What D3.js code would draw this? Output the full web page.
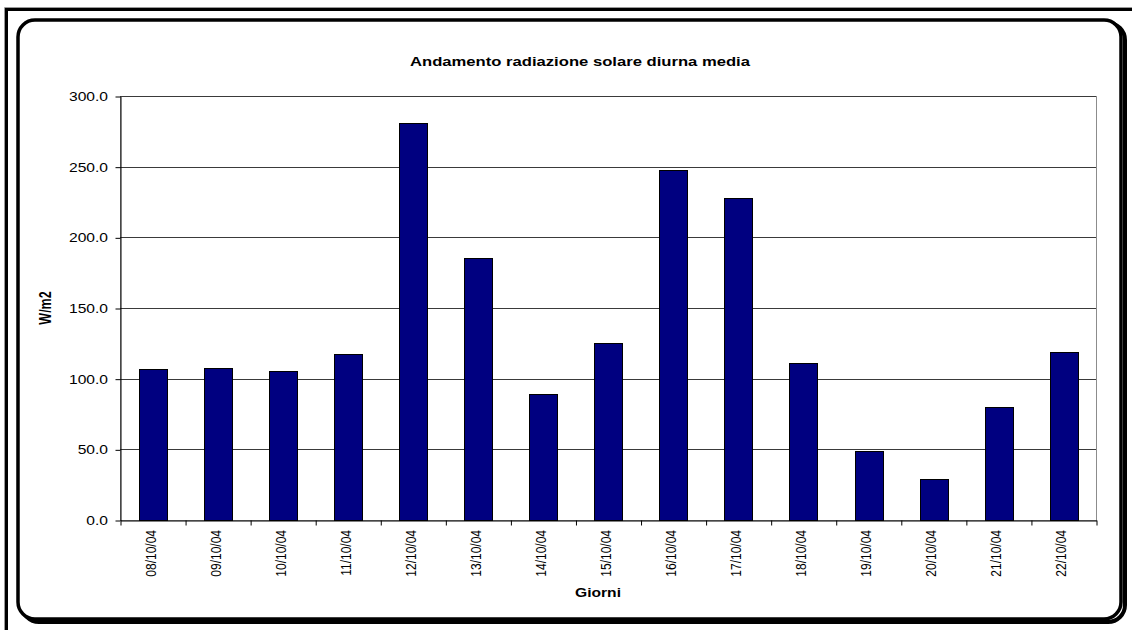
<!DOCTYPE html>
<html>
<head>
<meta charset="utf-8">
<script src="https://cdn.jsdelivr.net/npm/d3@7"></script>
<style>
  html, body { margin: 0; padding: 0; background: #fff; }
  svg { display: block; font-family: Arial, "Liberation Sans", sans-serif; }
</style>
</head>
<body>
<svg id="chart" width="1132" height="630"></svg>
<script>
// Daily mean solar radiation, 8–22 October 2004
const giorni = ["08/10/04", "09/10/04", "10/10/04", "11/10/04", "12/10/04",
                "13/10/04", "14/10/04", "15/10/04", "16/10/04", "17/10/04",
                "18/10/04", "19/10/04", "20/10/04", "21/10/04", "22/10/04"];
const radiazione = [106.8, 107.5, 105.2, 117.2, 281.1,
                    185.4, 88.9, 125.0, 247.9, 228.1,
                    111.1, 48.8, 28.8, 80.0, 118.9];
const yTicks = [0, 50, 100, 150, 200, 250, 300];

const titolo = "Andamento radiazione solare diurna media";
const titoloY = "W/m2";
const titoloX = "Giorni";

const svg = d3.select("#chart");
const W = 1132, H = 630;
const plot = { left: 120, right: 1096, top: 96, bottom: 520 };
const sx = 1.25; // horizontal stretch of the lettering

// outer frame (top and left edges)
svg.append("path")
  .attr("d", `M4.5,${H} V7.5 H${W}`)
  .attr("fill", "none").attr("stroke", "#9a9a9a").attr("stroke-width", 1);
svg.append("path")
  .attr("d", `M6.5,${H} V9.5 H${W}`)
  .attr("fill", "none").attr("stroke", "#000").attr("stroke-width", 3);

// chart area: rounded box with drop shadow
svg.append("rect")
  .attr("x", 22).attr("y", 23).attr("width", 1103).attr("height", 599)
  .attr("rx", 17).attr("ry", 17)
  .attr("fill", "none").attr("stroke", "#000").attr("stroke-width", 4);
svg.append("rect")
  .attr("x", 18).attr("y", 20).attr("width", 1103).attr("height", 599)
  .attr("rx", 17).attr("ry", 17)
  .attr("fill", "#fff").attr("stroke", "#000").attr("stroke-width", 3.5);

const x = d3.scaleBand()
  .domain(giorni)
  .range([plot.left, plot.right])
  .paddingInner(0.577)
  .paddingOuter(0.2885);
const xEdges = d3.scaleLinear().domain([0, giorni.length]).range([plot.left, plot.right]);
const y = d3.scaleLinear().domain([0, 300]).range([plot.bottom, plot.top]);

// plot area border
svg.append("rect")
  .attr("x", plot.left + 0.5).attr("y", plot.top + 0.5)
  .attr("width", plot.right - plot.left).attr("height", plot.bottom - plot.top)
  .attr("fill", "#fff").attr("stroke", "#8c8c8c").attr("stroke-width", 1);

// horizontal gridlines
svg.append("g")
  .selectAll("line")
  .data(yTicks.filter(d => d > 0))
  .join("line")
  .attr("x1", plot.left).attr("x2", plot.right)
  .attr("y1", d => Math.round(y(d)) + 0.5).attr("y2", d => Math.round(y(d)) + 0.5)
  .attr("stroke", "#3a3a3a").attr("stroke-width", 1);

// bars
svg.append("g")
  .selectAll("rect")
  .data(radiazione)
  .join("rect")
  .attr("x", (d, i) => Math.round(x(giorni[i])) + 0.5)
  .attr("y", d => Math.round(y(d)) + 0.5)
  .attr("width", Math.round(x.bandwidth()))
  .attr("height", d => Math.round(y(0)) - Math.round(y(d)))
  .attr("fill", "#000080")
  .attr("stroke", "#000").attr("stroke-width", 1);

// y axis
const yAxis = svg.append("g")
  .attr("transform", `translate(${plot.left + 0.5},0.5)`)
  .call(d3.axisLeft(y).tickValues(yTicks).tickFormat(d3.format(".1f")).tickSize(5).tickSizeOuter(0));
yAxis.select(".domain").attr("stroke", "#000");
yAxis.selectAll(".tick line").attr("stroke", "#000");
yAxis.selectAll(".tick text")
  .attr("x", -10)
  .attr("font-size", 12.5)
  .attr("fill", "#000")
  .attr("font-family", "Arial, 'Liberation Sans', sans-serif")
  .attr("transform", `scale(${sx},1)`);

// x axis: ticks on category boundaries
const xTickAxis = svg.append("g")
  .attr("transform", `translate(0.5,${plot.bottom + 0.5})`)
  .call(d3.axisBottom(xEdges).ticks(giorni.length).tickValues(d3.range(giorni.length + 1))
    .tickSize(5).tickSizeOuter(0).tickFormat(""));
xTickAxis.select(".domain").attr("stroke", "#000");
xTickAxis.selectAll(".tick line").attr("stroke", "#000");

// x axis: rotated date labels
svg.append("g")
  .selectAll("text")
  .data(giorni)
  .join("text")
  .attr("transform", d => `translate(${x(d) + x.bandwidth() / 2 + 3},${plot.bottom + 10}) scale(${sx},1) rotate(-90)`)
  .attr("text-anchor", "end")
  .attr("font-size", 12)
  .attr("fill", "#000")
  .text(d => d);

// title
svg.append("text")
  .attr("x", 580).attr("y", 66)
  .attr("text-anchor", "middle")
  .attr("font-size", 12.5).attr("font-weight", "bold")
  .attr("textLength", 340).attr("lengthAdjust", "spacingAndGlyphs")
  .text(titolo);

// axis titles
svg.append("text")
  .attr("transform", `translate(51,${(plot.top + plot.bottom) / 2}) scale(${sx},1) rotate(-90)`)
  .attr("text-anchor", "middle")
  .attr("font-size", 12.5).attr("font-weight", "bold")
  .text(titoloY);

svg.append("text")
  .attr("transform", `translate(598,597) scale(${sx},1)`)
  .attr("text-anchor", "middle")
  .attr("font-size", 12.5).attr("font-weight", "bold")
  .text(titoloX);
</script>
</body>
</html>
